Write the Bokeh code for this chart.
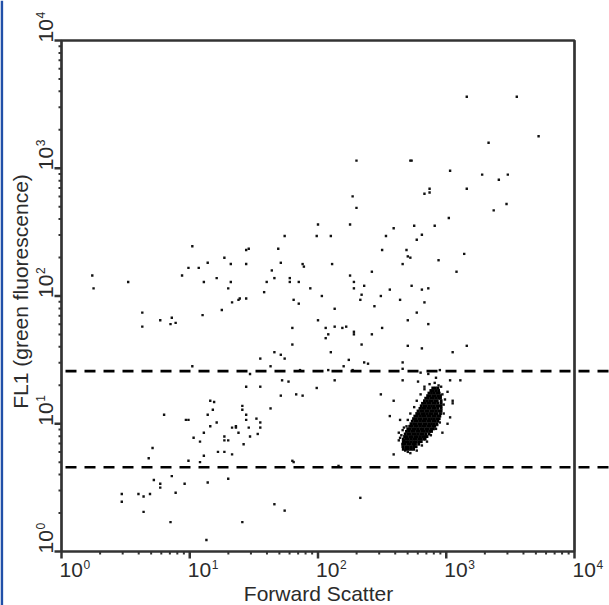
import math
import numpy as np
from bokeh.plotting import figure
from bokeh.models import Range1d
from bokeh.core.properties import value
from bokeh.embed import file_html
from bokeh.resources import INLINE

# ---------------- data (log10 of channel values) ----------------
# scattered events: (log10 Forward Scatter, log10 FL1)
scatter_points = [
    (1.02, 2.39), (1.27, 2.30), (1.32, 2.25), (1.14, 2.26), (0.99, 2.22), (1.07, 2.22),
    (0.24, 2.16), (0.94, 2.16), (0.52, 2.11), (1.11, 2.11), (1.21, 2.14), (1.32, 2.11),
    (0.25, 2.06), (1.30, 2.06), (1.33, 1.95), (1.25, 1.89), (0.63, 1.87), (1.10, 1.85),
    (0.63, 1.76), (0.77, 1.81), (0.86, 1.83), (0.85, 1.78), (0.89, 1.79), (1.02, 1.45),
    (1.16, 1.18), (1.19, 1.17), (1.18, 1.11), (1.14, 1.07), (0.80, 1.07), (0.97, 1.03),
    (0.99, 1.03), (1.21, 1.01), (1.16, 0.98), (1.33, 0.97), (1.11, 0.93), (1.03, 0.89),
    (1.08, 0.86), (1.27, 0.90), (1.27, 0.87), (1.30, 0.87), (0.71, 0.81), (1.22, 0.78),
    (1.27, 0.78), (1.33, 0.76), (1.11, 0.75), (0.68, 0.73), (0.99, 0.71), (1.08, 0.70),
    (0.72, 0.56), (0.86, 0.59), (0.77, 0.53), (0.77, 0.50), (0.96, 0.53), (1.14, 0.54),
    (1.30, 0.57), (0.89, 0.46), (0.47, 0.45), (0.60, 0.45), (0.64, 0.43), (0.69, 0.45),
    (0.47, 0.39), (0.64, 0.31), (0.85, 0.23), (1.13, 0.09),
    (2.30, 3.06), (2.27, 2.78), (2.30, 2.69), (2.00, 2.56), (2.25, 2.56), (1.74, 2.47),
    (1.99, 2.47), (2.10, 2.47), (2.59, 2.53), (2.53, 2.47), (1.46, 2.37), (1.44, 2.36),
    (1.69, 2.37), (2.50, 2.36), (2.69, 2.36), (1.44, 2.25), (1.71, 2.26), (1.88, 2.25),
    (1.89, 2.23), (2.11, 2.25), (2.66, 2.25), (1.64, 2.20), (2.42, 2.19), (1.66, 2.14),
    (1.78, 2.14), (2.25, 2.16), (1.60, 2.11), (1.78, 2.11), (1.85, 2.11), (2.28, 2.11),
    (2.36, 2.08), (1.94, 2.06), (2.28, 2.06), (1.58, 2.03), (2.34, 2.01), (2.56, 2.05),
    (1.38, 1.97), (1.39, 1.98), (1.44, 1.98), (1.81, 1.97), (2.03, 2.00), (2.33, 1.97),
    (2.49, 2.00), (2.64, 1.97), (1.85, 1.94), (2.44, 1.92), (2.13, 1.90),
    (3.16, 3.56), (3.55, 3.56), (3.72, 3.25), (3.33, 3.20), (2.72, 3.06), (2.73, 3.06),
    (3.03, 2.98), (3.28, 2.95), (3.48, 2.95), (3.41, 2.91), (2.87, 2.84), (2.87, 2.81),
    (2.83, 2.80), (3.16, 2.84), (3.47, 2.72), (3.37, 2.67), (3.02, 2.61), (2.75, 2.55),
    (2.91, 2.55), (2.81, 2.48), (2.77, 2.44), (2.70, 2.31), (2.72, 2.30), (2.94, 2.28),
    (3.14, 2.33), (3.08, 2.19), (2.73, 2.08), (2.81, 2.05), (2.86, 2.06), (2.83, 1.95),
    (2.77, 1.87),
    (2.00, 1.81), (1.80, 1.75), (2.06, 1.75), (2.13, 1.76), (2.19, 1.75), (2.22, 1.76),
    (2.28, 1.72), (2.28, 1.70), (2.08, 1.70), (2.06, 1.67), (2.42, 1.70), (2.50, 1.75),
    (1.80, 1.62), (2.34, 1.62), (2.10, 1.56), (1.66, 1.56), (1.71, 1.54), (1.74, 1.51),
    (1.55, 1.51), (2.24, 1.50), (2.36, 1.48), (2.39, 1.47), (2.20, 1.45), (1.63, 1.45),
    (2.66, 1.48), (2.66, 1.43), (1.86, 1.42), (2.08, 1.42), (2.27, 1.42), (1.47, 1.39),
    (1.72, 1.34), (1.77, 1.33), (2.13, 1.34), (2.66, 1.34), (1.44, 1.29), (1.55, 1.29),
    (1.99, 1.28), (1.71, 1.22), (1.83, 1.23), (1.88, 1.22), (2.49, 1.23), (2.59, 1.18),
    (1.41, 1.14), (1.41, 1.11), (1.63, 1.12), (1.44, 1.07), (2.56, 1.06), (1.44, 1.03),
    (1.52, 1.04), (1.55, 1.01), (2.64, 1.03), (1.36, 0.98), (1.36, 0.97), (1.46, 0.97),
    (1.55, 0.97), (1.38, 0.93), (2.63, 0.93), (2.66, 0.95), (2.69, 0.98), (1.47, 0.90),
    (1.53, 0.92), (2.63, 0.87), (2.67, 0.87), (2.67, 0.86), (2.66, 0.82), (2.69, 0.81),
    (1.42, 0.84), (2.59, 0.76), (1.80, 0.71), (1.81, 0.70), (2.16, 0.67), (2.33, 0.42),
    (1.66, 0.37), (1.74, 0.32), (1.41, 0.23),
    (2.70, 1.81), (2.86, 1.78), (2.70, 1.61), (2.81, 1.59), (3.05, 1.56), (3.16, 1.61),
    (2.86, 1.39), (2.95, 1.42), (2.92, 1.36), (3.03, 1.34), (3.11, 1.34), (2.78, 1.33),
    (2.83, 1.29), (3.05, 1.18), (2.70, 0.78), (2.80, 1.40), (2.96, 1.29), (3.01, 1.25),
    (3.05, 1.16), (2.64, 0.89), (2.75, 0.83), (3.01, 1.00), (2.97, 0.93), (3.03, 1.05),
    # loose events on the rim of the dense population
    (2.65, 0.91), (2.67, 0.97), (2.70, 1.03), (2.72, 1.08), (2.75, 1.13), (2.77, 1.18),
    (2.80, 1.23), (2.83, 1.27), (2.87, 1.31), (2.91, 1.32), (2.94, 1.30), (2.97, 1.23),
    (2.98, 1.15), (2.98, 1.08), (2.95, 1.01), (2.92, 0.96), (2.88, 0.91), (2.85, 0.86),
    (2.81, 0.83), (2.77, 0.79), (2.72, 0.77), (2.68, 0.79), (2.99, 1.19), (2.93, 0.99),
]

# dense population: rows of (log10 FL1, [log10 Forward Scatter, ...])
cluster_rows = [
    (0.80, [2.665, 2.685, 2.705, 2.725, 2.745]),
    (0.82, [2.665, 2.685, 2.705, 2.725, 2.745, 2.765]),
    (0.84, [2.66, 2.68, 2.70, 2.72, 2.74, 2.76, 2.785]),
    (0.86, [2.665, 2.685, 2.705, 2.725, 2.745, 2.765, 2.785, 2.805]),
    (0.88, [2.665, 2.685, 2.705, 2.725, 2.745, 2.765, 2.785, 2.805, 2.825, 2.835]),
    (0.90, [2.675, 2.695, 2.715, 2.735, 2.755, 2.775, 2.795, 2.815, 2.835, 2.85]),
    (0.92, [2.68, 2.70, 2.72, 2.74, 2.76, 2.78, 2.80, 2.82, 2.84, 2.865]),
    (0.94, [2.69, 2.71, 2.73, 2.75, 2.77, 2.79, 2.81, 2.83, 2.85, 2.87, 2.885]),
    (0.96, [2.70, 2.72, 2.74, 2.76, 2.78, 2.80, 2.82, 2.84, 2.86, 2.88, 2.90]),
    (0.98, [2.715, 2.735, 2.755, 2.775, 2.795, 2.815, 2.835, 2.855, 2.875, 2.895, 2.91]),
    (1.00, [2.725, 2.745, 2.765, 2.785, 2.805, 2.825, 2.845, 2.865, 2.885, 2.905, 2.925]),
    (1.02, [2.735, 2.755, 2.775, 2.795, 2.815, 2.835, 2.855, 2.875, 2.895, 2.915, 2.935]),
    (1.04, [2.745, 2.765, 2.785, 2.805, 2.825, 2.845, 2.865, 2.885, 2.905, 2.925, 2.945]),
    (1.06, [2.755, 2.775, 2.795, 2.815, 2.835, 2.855, 2.875, 2.895, 2.915, 2.935, 2.95]),
    (1.08, [2.77, 2.79, 2.81, 2.83, 2.85, 2.87, 2.89, 2.91, 2.93, 2.955]),
    (1.10, [2.78, 2.80, 2.82, 2.84, 2.86, 2.88, 2.90, 2.92, 2.94, 2.96]),
    (1.12, [2.795, 2.815, 2.835, 2.855, 2.875, 2.895, 2.915, 2.935, 2.96]),
    (1.14, [2.805, 2.825, 2.845, 2.865, 2.885, 2.905, 2.925, 2.945, 2.96]),
    (1.16, [2.815, 2.835, 2.855, 2.875, 2.895, 2.915, 2.935, 2.96]),
    (1.18, [2.83, 2.85, 2.87, 2.89, 2.91, 2.93, 2.96]),
    (1.20, [2.84, 2.86, 2.88, 2.90, 2.92, 2.94, 2.955]),
    (1.22, [2.855, 2.875, 2.895, 2.915, 2.935, 2.955]),
    (1.24, [2.865, 2.885, 2.905, 2.925, 2.945]),
    (1.26, [2.88, 2.90, 2.92, 2.94]),
    (1.28, [2.895, 2.915, 2.935]),
]

gate_upper = 25.8   # FL1 value of upper dashed gate line
gate_lower = 4.57   # FL1 value of lower dashed gate line

decade_ticks = [1, 10, 100, 1000, 10000]
minor_mantissas = [2, 3, 4, 5, 6, 7, 8, 9]
tick_base = "10"
tick_exponents = ["0", "1", "2", "3", "4"]
x_title = "Forward Scatter"
y_title = "FL1 (green fluorescence)"

# ---------------- layout (pixels of the 609x605 picture) ----------------
W, H = 609, 605
FRAME_LEFT, FRAME_TOP = 61, 40
FRAME_W, FRAME_H = 513, 511
FRAME_BOTTOM = FRAME_TOP + FRAME_H
DEC_W = FRAME_W / 4.0
DEC_H = FRAME_H / 4.0

def x_at(px):
    return 10 ** ((px - FRAME_LEFT) / DEC_W)

def y_at(py):
    return 10 ** ((FRAME_BOTTOM - py) / DEC_H)

FONT = "Liberation Sans"
TXT = "#2b2b2b"
AX = "#333333"

# ---------------- build data arrays ----------------
sc_x = 10 ** np.array([pt[0] for pt in scatter_points])
sc_y = 10 ** np.array([pt[1] for pt in scatter_points])
cl_x, cl_y = [], []
for fy, row in cluster_rows:
    for fx in row:
        cl_x.append(10 ** fx)
        cl_y.append(10 ** fy)

x_lo, x_hi = decade_ticks[0], decade_ticks[-1]
y_lo, y_hi = decade_ticks[0], decade_ticks[-1]

p = figure(width=W, height=H, title=None,
           x_axis_type="log", y_axis_type="log",
           x_axis_location=None, y_axis_location=None,
           x_range=Range1d(x_at(0), x_at(W)),
           y_range=Range1d(y_at(H), y_at(0)),
           output_backend="svg", toolbar_location=None,
           min_border=0)
p.min_border_left = p.min_border_right = p.min_border_top = p.min_border_bottom = 0
p.background_fill_color = "white"
p.border_fill_color = "white"
p.outline_line_color = None
p.grid.visible = False

# window edge (blue line at the far left of the original picture)
p.segment(x0=[x_at(1.3)], y0=[y_at(H)], x1=[x_at(1.3)], y1=[y_at(0)],
          line_color="#2150a8", line_width=2.7)

# events
p.scatter(sc_x, sc_y, marker="square", size=2.4, color="#111111", line_color=None)
p.scatter(cl_x, cl_y, marker="square", size=2.9, color="#000000", line_color=None)

# dashed gate lines (run past the right edge of the plot box, as in the original)
gates = [gate_lower, gate_upper]
p.segment(x0=[x_at(FRAME_LEFT + 4)] * 2, y0=gates, x1=[x_at(W)] * 2, y1=gates,
          line_color="black", line_width=2.6, line_dash="11 8")

# plot box
p.quad(left=[x_lo], right=[x_hi], bottom=[y_lo], top=[y_hi],
       fill_color=None, line_color=AX, line_width=2.7)

# ticks: decades long, minors short, all pointing outwards
minor = [m * d for d in decade_ticks[:-1] for m in minor_mantissas]
nd = len(decade_ticks)
p.segment(x0=decade_ticks, y0=[y_lo] * nd, x1=decade_ticks, y1=[y_at(FRAME_BOTTOM + 7)] * nd,
          line_color=AX, line_width=2.5)
p.segment(x0=[x_lo] * nd, y0=decade_ticks, x1=[x_at(FRAME_LEFT - 7)] * nd, y1=decade_ticks,
          line_color=AX, line_width=2.5)
nm = len(minor)
p.segment(x0=minor, y0=[y_lo] * nm, x1=minor, y1=[y_at(FRAME_BOTTOM + 3)] * nm,
          line_color=AX, line_width=2)
p.segment(x0=[x_lo] * nm, y0=minor, x1=[x_at(FRAME_LEFT - 3)] * nm, y1=minor,
          line_color=AX, line_width=2)

# tick labels: "10" with a raised exponent, starting at the tick
tick_px = [FRAME_LEFT + k * DEC_W for k in range(nd)]
tick_py = [FRAME_BOTTOM - k * DEC_H for k in range(nd)]
base_kw = dict(text_font=value(FONT), text_font_size="21px", text_color=TXT,
               text_align="left", text_baseline="middle")
sup_kw = dict(text_font=value(FONT), text_font_size="12px", text_color=TXT,
              text_align="left", text_baseline="middle")
p.text(x=[x_at(tx - 2) for tx in tick_px], y=[y_at(569.5)] * nd, text=[tick_base] * nd, **base_kw)
p.text(x=[x_at(tx + 22) for tx in tick_px], y=[y_at(564)] * nd, text=tick_exponents, **sup_kw)
p.text(x=[x_at(45.5)] * nd, y=[y_at(ty + 2) for ty in tick_py], text=[tick_base] * nd,
       angle=math.pi / 2, **base_kw)
p.text(x=[x_at(39.5)] * nd, y=[y_at(ty - 22) for ty in tick_py], text=tick_exponents,
       angle=math.pi / 2, **sup_kw)

# axis titles
title_kw = dict(text_font=value(FONT), text_font_size="21px", text_color=TXT,
                text_align="center", text_baseline="middle")
p.text(x=[x_at(FRAME_LEFT + FRAME_W / 2 + 0.5)], y=[y_at(592.5)], text=[x_title], **title_kw)
p.text(x=[x_at(20)], y=[y_at(291)], text=[y_title], angle=math.pi / 2, **title_kw)

open("out.html", "w").write(file_html(p, INLINE))
